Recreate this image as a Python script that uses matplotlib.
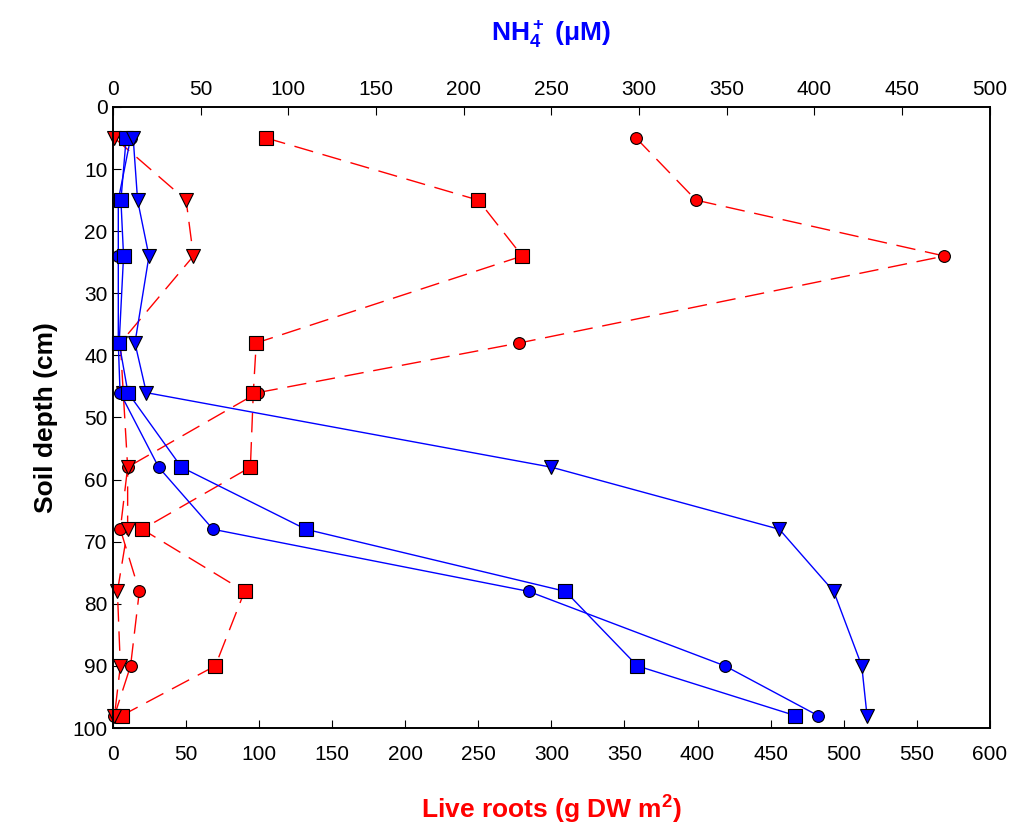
import numpy as np
import matplotlib
matplotlib.use('Agg')
import matplotlib.pyplot as plt

plt.rcParams['font.family'] = ['Liberation Sans', 'DejaVu Sans']
plt.rcParams['mathtext.fontset'] = 'custom'
plt.rcParams['mathtext.rm'] = 'Liberation Sans:bold'
plt.rcParams['mathtext.bf'] = 'Liberation Sans:bold'
plt.rcParams['mathtext.it'] = 'Liberation Sans:bold'

# soil depth (cm)
depth = [5, 15, 24, 38, 46, 58, 68, 78, 90, 98]

# live roots (g DW m2) - bottom axis
roots_circ = [358, 399, 569, 278, 99, 10, 5, 18, 12, 1]
roots_sq = [105, 250, 280, 98, 96, 94, 20, 90, 70, 6]
roots_tri = [1, 50, 55, 5, 7, 10, 10, 3, 5, 1]

# NH4+ (uM) - top axis
nh4_circ = [10, 3, 3, 3, 4, 26, 57, 237, 349, 402]
nh4_sq = [7.5, 4.5, 6, 3.5, 8.5, 39, 110, 258, 299, 389]
nh4_tri = [11.5, 14, 20.5, 12.5, 19, 250, 380, 411, 427, 430]

fig = plt.figure(figsize=(10.11, 8.32), dpi=100)
ax = fig.add_axes([0.1118, 0.125, 0.8672, 0.7464])
ax2 = ax.twiny()

red_ls = (0, (14, 7))
mk = dict(markeredgecolor='black', markeredgewidth=0.8, clip_on=False)
ax.plot(roots_circ, depth, color='red', ls=red_ls, lw=1, marker='o', ms=8.5, markerfacecolor='red', **mk)
ax.plot(roots_sq, depth, color='red', ls=red_ls, lw=1, marker='s', ms=10, markerfacecolor='red', **mk)
ax.plot(roots_tri, depth, color='red', ls=red_ls, lw=1, marker='v', ms=10, markerfacecolor='red', **mk)

ax2.plot(nh4_circ, depth, color='blue', lw=1, marker='o', ms=8.5, markerfacecolor='blue', **mk)
ax2.plot(nh4_sq, depth, color='blue', lw=1, marker='s', ms=10, markerfacecolor='blue', **mk)
ax2.plot(nh4_tri, depth, color='blue', lw=1, marker='v', ms=10, markerfacecolor='blue', **mk)

ax.set_xlim(0, 600)
ax2.set_xlim(0, 500)
ax.set_ylim(100, 0)
ax.set_xticks(np.arange(0, 601, 50))
ax2.set_xticks(np.arange(0, 501, 50))
ax.set_yticks(np.arange(0, 101, 10))

ax.tick_params(axis='x', direction='in', length=6, labelsize=15, pad=12)
ax.tick_params(axis='y', direction='in', length=6, labelsize=15, pad=4)
ax2.tick_params(axis='x', direction='in', length=6, labelsize=15, pad=6)

for a in (ax, ax2):
    for s in a.spines.values():
        s.set_linewidth(1.2)

ax.set_xlabel('Live roots (g DW m$^2$)', color='red', fontsize=19, fontweight='bold', labelpad=22)
ax2.set_xlabel('NH$_4^+$ ($\\mu$M)', color='blue', fontsize=19, fontweight='bold', labelpad=28)
ax.set_ylabel('Soil depth (cm)', fontsize=19, fontweight='bold', labelpad=10)

fig.savefig('out.png', dpi=100)
